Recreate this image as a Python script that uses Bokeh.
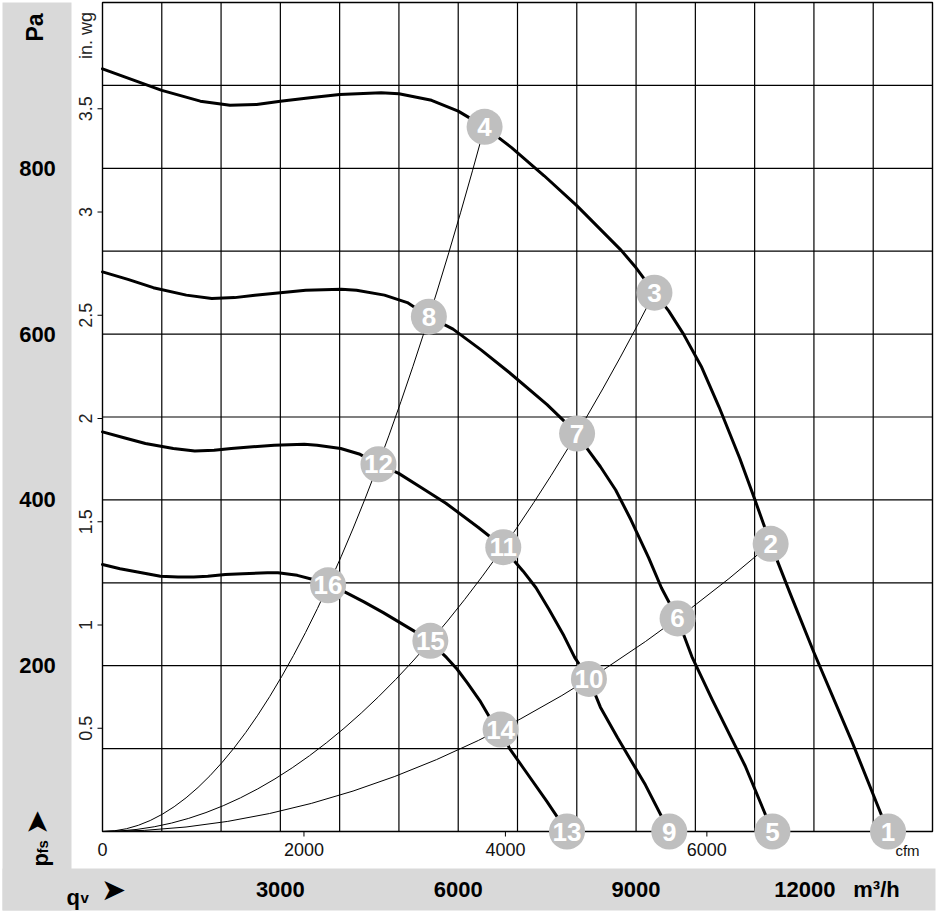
from math import pi
from bokeh.plotting import figure
from bokeh.models import Range1d, ColumnDataSource
from bokeh.core.properties import value
from bokeh.embed import file_html
from bokeh.resources import INLINE

# ---------------- data ----------------
# fan curves: volume flow (m³/h) and static pressure (Pa)
q_curve1 = [0, 500, 1000, 1650, 2150, 2600, 3000, 3500, 4000, 4700, 5000, 5550, 6000, 6445, 6900,
            7450, 8000, 8750, 9000, 9310, 9550, 9800, 10100, 10400, 10750, 11000, 11270, 11600, 12000, 12650, 13250]
p_curve1 = [920, 907, 894, 881, 876, 877, 881, 885, 889, 891, 890, 882, 869, 850, 825,
            791, 755, 701, 680, 650, 628, 600, 561, 512, 450, 401, 347, 287, 216, 107, 0]

q_curve2 = [0, 429, 857, 1414, 1843, 2228, 2571, 3000, 3428, 4028, 4285, 4756, 5142, 5505, 5913,
            6385, 6856, 7499, 8005, 8184, 8399, 8656, 8913, 9213, 9427, 9700, 9941, 10284, 10841, 11300]
p_curve2 = [675, 666, 656, 647, 643, 644, 647, 650, 653, 654, 653, 647, 638, 621, 606,
            581, 554, 515, 480, 461, 440, 412, 376, 330, 294, 257, 211, 159, 79, 0]

q_curve3 = [0, 362, 724, 1195, 1557, 1882, 2172, 2534, 2896, 3403, 3620, 4018, 4344, 4655, 4996,
            5394, 5792, 6335, 6760, 6914, 7095, 7312, 7530, 7783, 7964, 8205, 8398, 8688, 9159, 9560]
p_curve3 = [482, 475, 468, 462, 459, 460, 462, 464, 466, 467, 466, 462, 455, 443, 432,
            414, 396, 367, 343, 329, 314, 294, 268, 236, 210, 184, 150, 113, 56, 0]

q_curve4 = [0, 296, 592, 977, 1273, 1539, 1776, 2072, 2368, 2782, 2960, 3286, 3552, 3805, 4085,
            4410, 4736, 5180, 5530, 5654, 5802, 5979, 6157, 6364, 6512, 6715, 6867, 7104, 7489, 7835]
p_curve4 = [322, 317, 313, 308, 307, 307, 308, 310, 311, 312, 312, 309, 304, 297, 289,
            277, 264, 245, 230, 220, 210, 196, 179, 158, 140, 123, 100, 76, 37, 0]

# numbered operating points
point_labels = ["1", "2", "3", "4", "5", "6", "7", "8", "9", "10", "11", "12", "13", "14", "15", "16"]
point_q = [13250, 11270, 9310, 6445, 11300, 9700, 8005, 5505, 9560, 8205, 6760, 4655, 7835, 6715, 5530, 3805]
point_p = [0, 347, 650, 850, 0, 257, 480, 621, 0, 184, 343, 443, 0, 123, 230, 297]

# system curves (parabolas from the origin) end at points 4, 3, 2
sys_q = [6445, 9310, 11270]
sys_p = [850, 650, 347]

# axes
pa_ticks = [200, 400, 600, 800]
m3h_ticks = [3000, 6000, 9000, 12000]
inwg_ticks = [0.5, 1, 1.5, 2, 2.5, 3, 3.5]
inwg_labels = ["0.5", "1", "1.5", "2", "2.5", "3", "3.5"]
cfm_ticks = [0, 2000, 4000, 6000]
grid_q = [1000, 2000, 3000, 4000, 5000, 6000, 7000, 8000, 9000, 10000, 11000, 12000, 13000]
grid_p = [100, 200, 300, 400, 500, 600, 700, 800, 900]
Q_MAX = 14000
P_MAX = 1000
PA_PER_INWG = 249.089
M3H_PER_CFM = 1.69901

# ---------------- layout (pixels) ----------------
W, H = 937, 914
L, R, T, B = 102, 932, 2, 831
sx = (R - L) / Q_MAX
sy = (B - T) / P_MAX


def qx(px):
    return (px - L) / sx


def py(px):
    return (B - px) / sy


FONT = value("Liberation Sans")
GRAY = "#d9d9d9"
CIRCLE = "#bfbfbf"

p = figure(width=W, height=H, x_range=Range1d(qx(0), qx(W)), y_range=Range1d(py(H), py(0)),
           x_axis_location=None, y_axis_location=None, toolbar_location=None,
           output_backend="svg", min_border=0, outline_line_color=None,
           background_fill_color="white", border_fill_color="white")
p.grid.visible = False

# gray label bands
p.quad(left=[qx(2), qx(2)], right=[qx(71), qx(935)], top=[py(2), py(868)], bottom=[py(910), py(910)],
       fill_color=GRAY, line_color=None)

# grid
p.segment(x0=grid_q, y0=[0] * len(grid_q), x1=grid_q, y1=[P_MAX] * len(grid_q), line_color="black", line_width=1.2)
p.segment(x0=[0] * len(grid_p), y0=grid_p, x1=[Q_MAX] * len(grid_p), y1=grid_p, line_color="black", line_width=1.2)
p.quad(left=[0], right=[Q_MAX], bottom=[0], top=[P_MAX], fill_color=None, line_color="black", line_width=1.4)

# in. wg ticks and labels
inwg_pa = [v * PA_PER_INWG for v in inwg_ticks]
p.segment(x0=[qx(97)] * len(inwg_pa), y0=inwg_pa, x1=[0] * len(inwg_pa), y1=inwg_pa, line_color="black", line_width=1)
p.text(x=[qx(85)] * len(inwg_pa), y=inwg_pa, text=inwg_labels, angle=pi / 2, text_align="center",
       text_baseline="middle", text_font=FONT, text_font_size="18px", text_color="#222222")
p.text(x=[qx(85)], y=[py(35)], text=["in. wg"], angle=pi / 2, text_align="center", text_baseline="middle",
       text_font=FONT, text_font_size="18px", text_color="#222222")

# cfm ticks and labels
cfm_q = [v * M3H_PER_CFM for v in cfm_ticks]
p.segment(x0=cfm_q[1:], y0=[0] * 3, x1=cfm_q[1:], y1=[py(836)] * 3, line_color="black", line_width=1)
p.text(x=cfm_q, y=[py(849)] * len(cfm_q), text=[str(v) for v in cfm_ticks], text_align="center",
       text_baseline="middle", text_font=FONT, text_font_size="18px", text_color="#111111")
p.text(x=[qx(907)], y=[py(850)], text=["cfm"], text_align="center", text_baseline="middle",
       text_font=FONT, text_font_size="15px", text_color="#111111")

# Pa labels (left band)
p.text(x=[qx(37)] * len(pa_ticks), y=pa_ticks, text=[str(v) for v in pa_ticks], text_align="center",
       text_baseline="middle", text_font=FONT, text_font_size="22px", text_font_style="bold", text_color="black")
p.text(x=[qx(34)], y=[py(27)], text=["Pa"], angle=pi / 2, text_align="center", text_baseline="middle",
       text_font=FONT, text_font_size="23px", text_font_style="bold", text_color="black")
p.text(x=[qx(40)], y=[py(866)], text=["p"], angle=pi / 2, text_align="left", text_baseline="alphabetic",
       text_font=FONT, text_font_size="22px", text_font_style="bold", text_color="black")
p.text(x=[qx(42)], y=[py(853)], text=["fs"], angle=pi / 2, text_align="left", text_baseline="alphabetic",
       text_font=FONT, text_font_size="15px", text_font_style="bold", text_color="black")
p.text(x=[qx(36)], y=[py(822)], text=["➤"], angle=pi / 2, text_align="center", text_baseline="middle",
       text_font=value("DejaVu Sans"), text_font_size="30px", text_color="black")

# m³/h labels (bottom band)
m3h_src = ColumnDataSource(dict(x=m3h_ticks, y=[py(889)] * len(m3h_ticks),
                                text=[str(v) for v in m3h_ticks], dx=[0, 0, 0, -9]))
p.text(x="x", y="y", text="text", x_offset="dx", source=m3h_src, text_align="center", text_baseline="middle",
       text_font=FONT, text_font_size="22px", text_font_style="bold", text_color="black")
p.text(x=[qx(876)], y=[py(889)], text=["m³/h"], text_align="center", text_baseline="middle",
       text_font=FONT, text_font_size="22px", text_font_style="bold", text_color="black")
p.text(x=[qx(66)], y=[py(897)], text=["q"], text_align="left", text_baseline="alphabetic",
       text_font=FONT, text_font_size="22px", text_font_style="bold", text_color="black")
p.text(x=[qx(80)], y=[py(897)], text=["v"], text_align="left", text_baseline="alphabetic",
       text_font=FONT, text_font_size="15px", text_font_style="bold", text_color="black")
p.text(x=[qx(113)], y=[py(889)], text=["➤"], text_align="center", text_baseline="middle",
       text_font=value("DejaVu Sans"), text_font_size="30px", text_color="black")

# system curves: exact parabolas through the origin
p.quadratic(x0=[0] * 3, y0=[0] * 3, x1=sys_q, y1=sys_p, cx=[q / 2 for q in sys_q], cy=[0] * 3,
            line_color="black", line_width=1)

# fan curves
for qs, ps in [(q_curve1, p_curve1), (q_curve2, p_curve2), (q_curve3, p_curve3), (q_curve4, p_curve4)]:
    p.line(qs, ps, line_color="black", line_width=3, line_join="round", line_cap="round")

# numbered points
p.scatter(point_q, point_p, size=36, marker="circle", fill_color=CIRCLE, line_color=None)
p.text(point_q, point_p, text=point_labels, text_align="center", text_baseline="middle",
       text_font=FONT, text_font_size="26px", text_font_style="bold", text_color="white")

open("out.html", "w").write(file_html(p, INLINE))
